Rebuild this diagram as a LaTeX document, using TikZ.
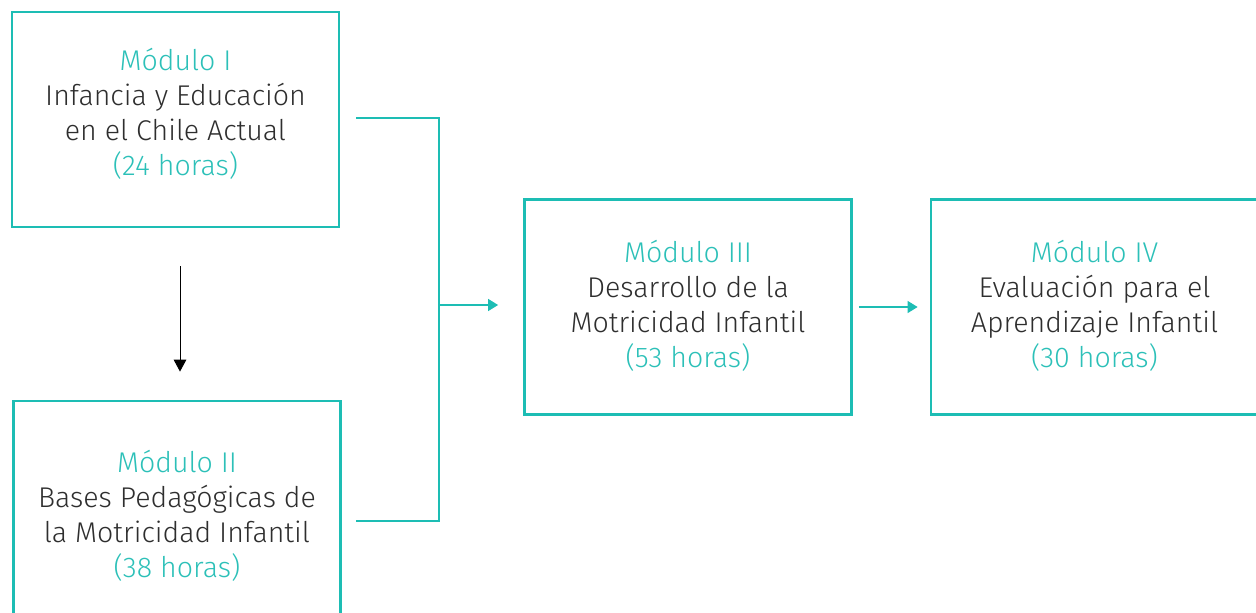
\documentclass[tikz,border=0pt]{standalone}
\usepackage{fontspec}
\setmainfont{Fira Sans Light}
\usetikzlibrary{arrows.meta}
\definecolor{tealc}{HTML}{1DBDB4}
\definecolor{tealt}{HTML}{2CC0B8}
\definecolor{darkt}{HTML}{2E2E2E}
\tikzset{
  modbox/.style={draw=tealc, line width=2.1pt, minimum width=245.25pt, minimum height=161.25pt, inner sep=0pt},
  modtext/.style={align=center, text=darkt, font=\fontsize{21.4pt}{26.2pt}\selectfont, inner sep=0pt},
  tline/.style={draw=tealc, line width=1pt},
  tarr/.style={tline, -{Triangle[length=7.5pt,width=9pt]}},
  barr/.style={draw=black, line width=0.75pt, -{Triangle[length=9pt,width=9.5pt]}}
}
\newcommand{\hl}[1]{\textcolor{tealt}{#1}}
\begin{document}
\begin{tikzpicture}[x=0.75pt,y=-0.75pt]
\useasboundingbox (0,0) rectangle (1256,612);
\node[modbox] (I) at (175.5,119.5) {};
\node[modbox] (II) at (177,508.5) {};
\node[modbox] (III) at (688,307) {};
\node[modbox] (IV) at (1094.5,307) {};
\node[modtext] (tI) at (175.5,114) {\hl{Módulo I}\\Infancia y Educación\\en el Chile Actual\\\hl{(24 horas)}};
\node[modtext] (tII) at (177,516) {\hl{Módulo II}\\Bases Pedagógicas de\\la Motricidad Infantil\\\hl{(38 horas)}};
\node[modtext] (tIII) at (688,306) {\hl{Módulo III}\\Desarrollo de la\\Motricidad Infantil\\\hl{(53 horas)}};
\node[modtext] (tIV) at (1094.5,306) {\hl{Módulo IV}\\Evaluación para el\\Aprendizaje Infantil\\\hl{(30 horas)}};
\coordinate (a1) at (356,118);
\coordinate (j1) at (439,118);
\coordinate (j2) at (439,521);
\coordinate (a2) at (356,521);
\coordinate (jm) at (439,305);
\draw[tline] (a1) -- (j1) -- (j2) -- (a2);
\draw[tarr, shorten >=18.75pt] (jm) -- (jm -| III.west);
\draw[tarr, shorten <=4.5pt, shorten >=9pt] (III.east) -- (IV.west);
\coordinate (b1) at (180,228);
\draw[barr, shorten <=28.5pt, shorten >=21pt] (b1) -- (b1 |- II.north);
\end{tikzpicture}
\end{document}
